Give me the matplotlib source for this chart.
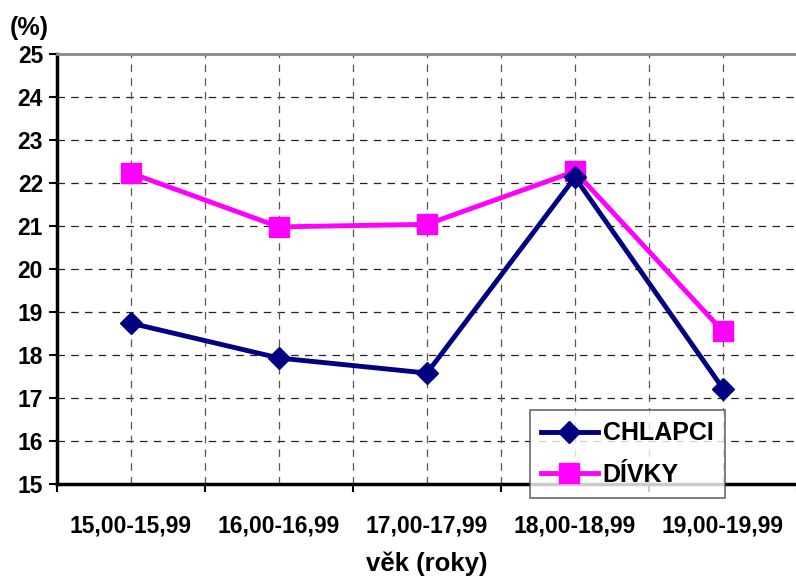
import numpy as np
import matplotlib as mpl
mpl.use("Agg")
import matplotlib.pyplot as plt

plt.rcParams['font.family'] = ['Liberation Sans', 'DejaVu Sans']
plt.rcParams['font.weight'] = 'bold'

categories = ["15,00-15,99", "16,00-16,99", "17,00-17,99", "18,00-18,99", "19,00-19,99"]
chlapci = [18.74, 17.93, 17.58, 22.13, 17.22]
divky = [22.23, 20.98, 21.04, 22.27, 18.55]

fig = plt.figure(figsize=(7.96, 5.76), dpi=100)
ax = fig.add_axes([0.0716, 0.1597, 0.9296, 0.7465])

x = np.arange(len(categories)) + 0.5
ax.plot(x, chlapci, color="#000080", lw=3.5, marker="D", ms=11, label="CHLAPCI", zorder=5)
ax.plot(x, divky, color="#FF00FF", lw=3.5, marker="s", ms=14, label="DÍVKY", zorder=4)

ax.set_xlim(0, len(categories))
ax.set_ylim(15, 25)
ax.set_yticks(range(15, 26))
ax.set_xticks(np.arange(len(categories) + 1))
ax.set_xticklabels([])
ax.set_xticks(x, minor=True)
ax.set_xticklabels(categories, minor=True, fontweight="bold")
ax.tick_params(axis="x", which="minor", length=0, pad=22, labelsize=16.5)
ax.tick_params(axis="x", which="major", length=6, width=1.5, direction="out")
ax.tick_params(axis="y", length=6, width=1.5, direction="out", labelsize=16.5, pad=4)
for t in ax.get_yticklabels():
    t.set_fontweight("bold")

# dashed grid
for yv in range(16, 25):
    ax.axhline(yv, color="#222222", lw=0.9, ls=(0, (6, 5)), zorder=1)
for xv in np.arange(0.5, len(categories), 0.5):
    ax.axvline(xv, color="#555555", lw=0.9, ls=(0, (6, 5)), zorder=1)

ax.spines["right"].set_visible(False)
ax.spines["top"].set_color("#888888")
ax.spines["top"].set_linewidth(2)
ax.spines["left"].set_linewidth(2.5)
ax.spines["bottom"].set_linewidth(2.5)

ax.set_xlabel("věk (roky)", fontsize=18.5, fontweight="bold", labelpad=10)
fig.text(0.012, 0.94, "(%)", fontsize=18, fontweight="bold")

leg = ax.legend(loc="lower left", bbox_to_anchor=(530 / 796, (576 - 498) / 576),
                bbox_transform=fig.transFigure, fontsize=18, frameon=True,
                fancybox=False, handlelength=2.25, borderpad=0.45, labelspacing=0.7,
                handletextpad=0.2, borderaxespad=0)
for t in leg.get_texts():
    t.set_fontweight("bold")
leg.get_frame().set_edgecolor("#444444")
leg.get_frame().set_linewidth(1.2)

plt.savefig("out.png", dpi=100)
